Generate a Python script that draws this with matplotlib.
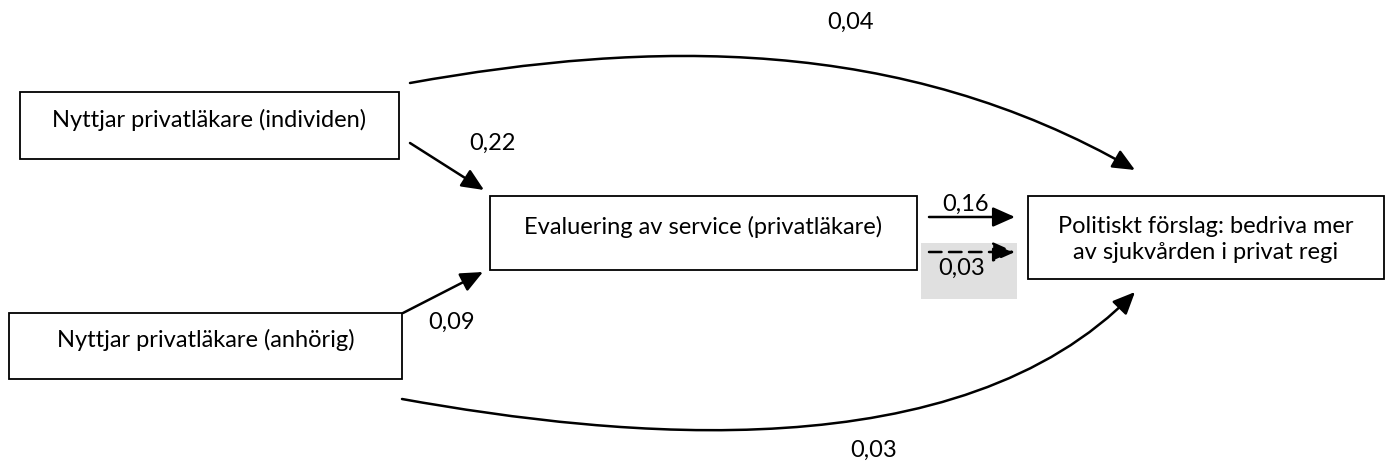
import matplotlib.pyplot as plt
from matplotlib.patches import Rectangle, FancyArrowPatch
from matplotlib.path import Path

# nodes of the path model
nodes = ['Nyttjar privatläkare (individen)',
         'Nyttjar privatläkare (anhörig)',
         'Evaluering av service (privatläkare)',
         'Politiskt förslag: bedriva mer\nav sjukvården i privat regi']

# path coefficients
coef_ind_eval = 0.22
coef_anh_eval = 0.09
coef_ind_pol = 0.04
coef_anh_pol = 0.03
coef_eval_pol = 0.16
coef_eval_pol_dashed = 0.03

def fmt(v):
    return f'{v:.2f}'.replace('.', ',')

plt.rcParams['font.family'] = ['Lato', 'DejaVu Sans']
FS = 17

fig = plt.figure(figsize=(13.9, 4.71), dpi=100)
ax = fig.add_axes([0, 0, 1, 1])
ax.set_xlim(0, 1390)
ax.set_ylim(471, 0)
ax.axis('off')

# box geometry (x0, y0, x1, y1) in pixels
boxes = [(20, 92, 399, 159), (9, 313, 402, 379), (490, 196, 917, 270), (1028, 196, 1384, 279)]
for (x0, y0, x1, y1), label in zip(boxes, nodes):
    ax.add_patch(Rectangle((x0, y0), x1 - x0, y1 - y0, fill=False, ec='black', lw=1.3))
    ax.text((x0 + x1) / 2, (y0 + y1) / 2 + (-6 if '\n' not in label else 2), label,
            ha='center', va='center', fontsize=FS, linespacing=1.35)

# grey highlight behind the dashed path
ax.add_patch(Rectangle((921, 243), 96, 56, fc='#e0e0e0', ec='none', zorder=0))

astyle = dict(arrowstyle='-|>,head_length=0.9,head_width=0.4', mutation_scale=15,
              color='black', lw=1.8, shrinkA=0, shrinkB=0)

def straight(p0, p1, ls='-'):
    ax.add_patch(FancyArrowPatch(p0, p1, linestyle=ls, **astyle))

def curve(pts):
    path = Path(pts, [Path.MOVETO, Path.CURVE4, Path.CURVE4, Path.CURVE4])
    ax.add_patch(FancyArrowPatch(path=path, **astyle))

straight((410, 143), (484, 190))
straight((403, 313), (483, 272))
straight((929, 217), (1015, 217))
straight((929, 252), (1015, 252), ls=(0, (5, 3)))

curve([(410, 83), (650, 40), (900, 35), (1135, 170)])
curve([(402, 399), (620, 438), (960, 472), (1135, 292)])

ax.text(492, 143, fmt(coef_ind_eval), ha='center', va='center', fontsize=FS)
ax.text(452, 322, fmt(coef_anh_eval), ha='center', va='center', fontsize=FS)
ax.text(851, 22, fmt(coef_ind_pol), ha='center', va='center', fontsize=FS)
ax.text(874, 450, fmt(coef_anh_pol), ha='center', va='center', fontsize=FS)
ax.text(966, 204, fmt(coef_eval_pol), ha='center', va='center', fontsize=FS)
ax.text(962, 268, fmt(coef_eval_pol_dashed), ha='center', va='center', fontsize=FS)

plt.savefig('out.png', dpi=100)
